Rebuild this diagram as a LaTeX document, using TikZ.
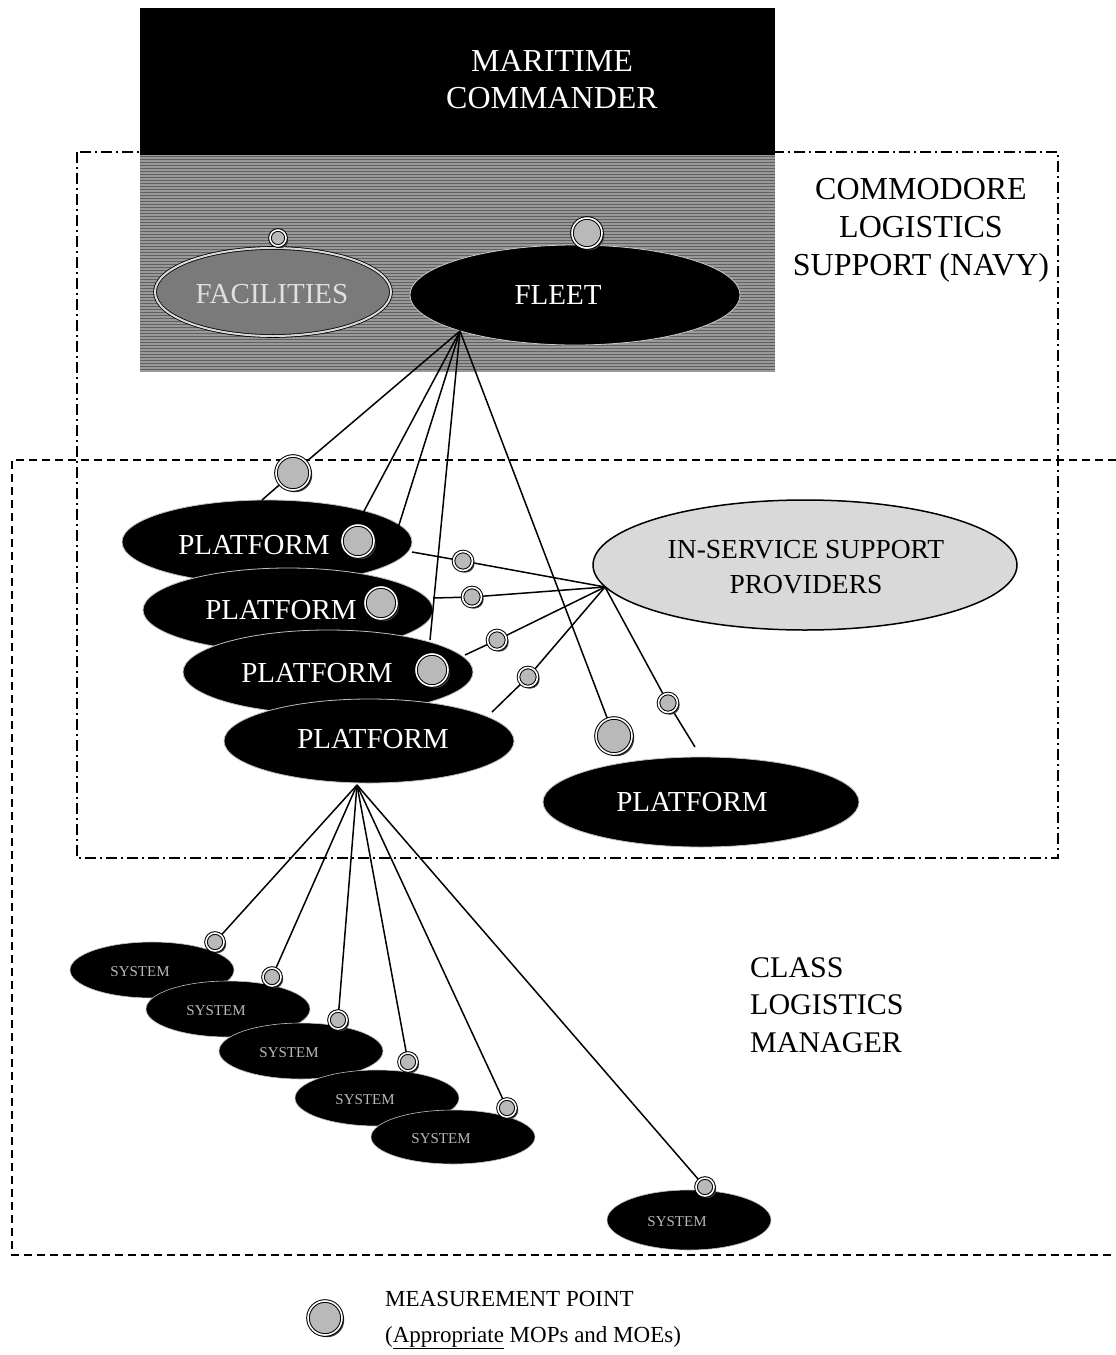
\documentclass[tikz,border=0pt]{standalone}
\usepackage{fontspec}
\setmainfont{Liberation Serif}
\usetikzlibrary{shapes.geometric,shadows}
\pgfdeclarelayer{back}
\pgfdeclarelayer{ell}
\pgfdeclarelayer{lines}
\pgfsetlayers{back,ell,lines,main}
\begin{document}
\begin{tikzpicture}[x=1pt,y=-1pt,
  plat/.style={ellipse, fill=black, draw=gray!50, line width=0.8pt, minimum width=290, minimum height=84, inner sep=0},
  sysell/.style={ellipse, fill=black, draw=gray!50, line width=0.6pt, minimum width=164, minimum height=56, inner sep=0},
  mp/.style={circle, draw=black, line width=1pt, double=white, double distance=1.6pt, fill=gray!55, inner sep=0, minimum size=#1,
    drop shadow={shadow xshift=2.2pt, shadow yshift=-2.2pt, fill=black!75, opacity=1}},
  wtxt/.style={text=white, font=\fontsize{29}{32}\selectfont, inner sep=0},
  systxt/.style={text=gray!55, font=\fontsize{15}{18}\selectfont, inner sep=0},
  conn/.style={line width=1.5pt, black},
  dashdotbox/.style={line width=1.5pt, dash pattern=on 11pt off 4pt on 2pt off 4pt},
  dashedbox/.style={line width=1.5pt, dash pattern=on 8pt off 5pt}
]
\useasboundingbox (0,0) rectangle (1116,1355);

% ---------- background layer ----------
\begin{pgfonlayer}{back}
  \draw[dashdotbox] (77,152) rectangle (1058,858);
  \draw[dashedbox] (1116,460) -- (12,460) -- (12,1255) -- (1116,1255);
  \fill[black] (140,8) rectangle (775,155);
  \fill[black!40] (140,155) rectangle (775,372);
  \foreach \yy in {156,159,...,371} \draw[black!62, line width=0.9pt] (140,\yy) -- (775,\yy);
\end{pgfonlayer}

\node[text=white, font=\fontsize{32}{37}\selectfont, align=center] (mc) at (552,80) {MARITIME\\COMMANDER};
\node[font=\fontsize{32}{38}\selectfont, align=center] (cls) at (921,230) {COMMODORE\\LOGISTICS\\SUPPORT (NAVY)};
\node[font=\fontsize{30}{37.5}\selectfont, align=left, anchor=west, inner sep=0] (clm) at (750,1005) {CLASS\\LOGISTICS\\MANAGER};

% ---------- ellipses ----------
\begin{pgfonlayer}{ell}
  \node[ellipse, fill=black!52, draw=black, line width=0.8pt, double=white!85!black, double distance=2pt, minimum width=236, minimum height=88, inner sep=0] (fac) at (273,292) {};
  \node[ellipse, fill=black, draw=gray!40, line width=0.8pt, minimum width=330, minimum height=100, inner sep=0] (fleet) at (575,295) {};
  \node[ellipse, fill=gray!30, draw=black, line width=1.5pt, minimum width=424, minimum height=130, inner sep=0] (iss) at (805,565) {};
  \node[plat] (p1) at (267,542) {};
  \node[plat] (p2) at (288,610) {};
  \node[plat] (p3) at (328,672) {};
  \node[plat] (p4) at (369,741) {};
  \node[plat, minimum width=316, minimum height=90] (p5) at (701,802) {};
  \node[sysell] (s1) at (152,970) {};
  \node[sysell] (s2) at (228,1009) {};
  \node[sysell] (s3) at (301,1051) {};
  \node[sysell] (s4) at (377,1098) {};
  \node[sysell, minimum height=54] (s5) at (453,1137) {};
  \node[sysell, minimum height=60] (s6) at (689,1220) {};
\end{pgfonlayer}

% ---------- ellipse texts ----------
\node[wtxt, text=white!88!black] (tfac) at (272,294) {FACILITIES};
\node[wtxt] (tfleet) at (558,295) {FLEET};
\node[font=\fontsize{27.5}{35}\selectfont, align=center, inner sep=0] (tiss) at (806,567) {IN-SERVICE SUPPORT\\PROVIDERS};
\node[wtxt] (tp1) at (254,545) {PLATFORM};
\node[wtxt] (tp2) at (281,610) {PLATFORM};
\node[wtxt] (tp3) at (317,673) {PLATFORM};
\node[wtxt] (tp4) at (373,739) {PLATFORM};
\node[wtxt] (tp5) at (692,802) {PLATFORM};
\node[systxt] (ts1) at (140,972) {SYSTEM};
\node[systxt] (ts2) at (216,1011) {SYSTEM};
\node[systxt] (ts3) at (289,1053) {SYSTEM};
\node[systxt] (ts4) at (365,1100) {SYSTEM};
\node[systxt] (ts5) at (441,1139) {SYSTEM};
\node[systxt] (ts6) at (677,1222) {SYSTEM};

% ---------- connector hubs and ends ----------
\coordinate (fb) at (460,331);
\coordinate (isp) at (605,587);
\coordinate (p4b) at (357,785);
\coordinate (e1) at (262,500);
\coordinate (e2) at (363,513);
\coordinate (e3) at (398,528);
\coordinate (e4) at (430,640);
\coordinate (f1) at (412,552);
\coordinate (f2) at (433,598);
\coordinate (f3) at (465,655);
\coordinate (f4) at (492,712);
\coordinate (f5) at (695,747);

% ---------- measurement points ----------
\node[mp=16] (mfac) at (278,238) {};
\node[mp=30] (mfleet) at (587,233) {};
\node[mp=34] (mp0) at (293,473) {};
\node[mp=32] (mp1) at (358,541) {};
\node[mp=32] (mp2) at (381,603) {};
\node[mp=32] (mp3) at (432,670) {};
\node[mp=36] (mp5) at (614,736) {};
\node[mp=19] (mi1) at (463,561) {};
\node[mp=19] (mi2) at (472,597) {};
\node[mp=19] (mi3) at (497,640) {};
\node[mp=19] (mi4) at (528,677) {};
\node[mp=19] (mi5) at (668,703) {};
\node[mp=18] (ms1) at (215,942) {};
\node[mp=18] (ms2) at (272,977) {};
\node[mp=18] (ms3) at (338,1020) {};
\node[mp=18] (ms4) at (408,1062) {};
\node[mp=18] (ms5) at (507,1108) {};
\node[mp=18] (ms6) at (705,1187) {};

% ---------- legend ----------
\node[mp=34] (mleg) at (325,1318) {};
\node[font=\fontsize{23}{36}\selectfont, align=left, anchor=west, inner sep=0] (tleg) at (385,1320) {MEASUREMENT POINT\\(\underline{Appropriate} MOPs and MOEs)};

% ---------- connectors ----------
\begin{pgfonlayer}{lines}
  \draw[conn] (fb) -- (mp0) -- (e1);
  \draw[conn] (fb) -- (e2);
  \draw[conn] (fb) -- (e3);
  \draw[conn] (fb) -- (e4);
  \draw[conn] (fb) -- (mp5);
  \draw[conn] (isp) -- (mi1) -- (f1);
  \draw[conn] (isp) -- (mi2) -- (f2);
  \draw[conn] (isp) -- (mi3) -- (f3);
  \draw[conn] (isp) -- (mi4) -- (f4);
  \draw[conn] (isp) -- (mi5) -- (f5);
  \draw[conn] (p4b) -- (ms1);
  \draw[conn] (p4b) -- (ms2);
  \draw[conn] (p4b) -- (ms3);
  \draw[conn] (p4b) -- (ms4);
  \draw[conn] (p4b) -- (ms5);
  \draw[conn] (p4b) -- (ms6);
\end{pgfonlayer}
\end{tikzpicture}
\end{document}
